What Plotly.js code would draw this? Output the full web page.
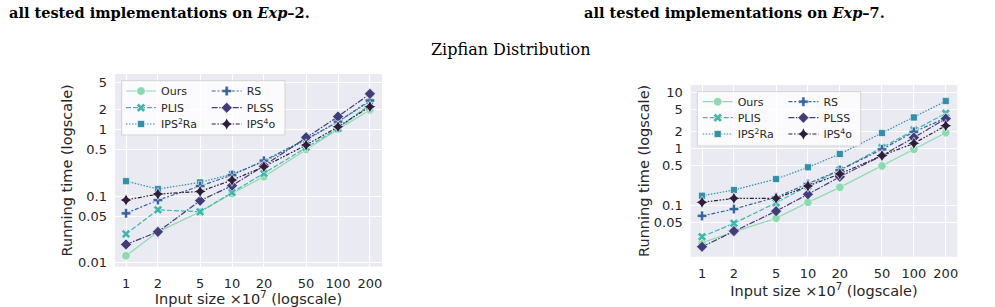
<!DOCTYPE html>
<html>
<head>
<meta charset="utf-8">
<script src="https://cdn.plot.ly/plotly-3.0.1.min.js"></script>
<style>
html,body{margin:0;padding:0;background:#fff;}
#chart{width:995px;height:307px;}
</style>
</head>
<body>
<div id="chart"></div>
<script>
// ---- data ----
const sizes = [1, 2, 5, 10, 20, 50, 100, 200];
const xTickText = ["1", "2", "5", "10", "20", "50", "100", "200"];
const seriesNames = ["Ours", "PLIS", "IPS<sup>2</sup>Ra", "RS", "PLSS", "IPS<sup>4</sup>o"];

// Exp-2 (left panel), running time in seconds
const ours2   = [0.0127, 0.029, 0.058, 0.109, 0.195, 0.50, 1.00, 1.95];
const plis2   = [0.027, 0.062, 0.058, 0.113, 0.218, 0.54, 1.03, 2.35];
const ips2ra2 = [0.167, 0.127, 0.160, 0.213, 0.327, 0.69, 1.30, 2.60];
const rs2     = [0.055, 0.087, 0.141, 0.206, 0.338, 0.71, 1.30, 2.70];
const plss2   = [0.0188, 0.029, 0.085, 0.143, 0.284, 0.757, 1.55, 3.40];
const ips4o2  = [0.087, 0.107, 0.117, 0.173, 0.275, 0.58, 1.09, 2.18];

// Exp-7 (right panel)
const ours7   = [0.0218, 0.034, 0.059, 0.113, 0.208, 0.497, 0.98, 1.93];
const plis7   = [0.0279, 0.048, 0.111, 0.220, 0.420, 1.06, 2.15, 4.25];
const ips2ra7 = [0.148, 0.187, 0.292, 0.471, 0.81, 1.90, 3.60, 7.00];
const rs7     = [0.065, 0.086, 0.139, 0.239, 0.420, 0.98, 2.00, 3.50];
const plss7   = [0.0185, 0.035, 0.079, 0.157, 0.320, 0.76, 1.58, 3.42];
const ips4o7  = [0.113, 0.133, 0.133, 0.220, 0.360, 0.76, 1.25, 2.57];

const yTicksLeft = [0.01, 0.05, 0.1, 0.5, 1, 2, 5];
const yTicksRight = [0.05, 0.1, 0.5, 1, 2, 5, 10];

// ---- styles ----
const W = 995, H = 307;
const colors = ["#8bdab2", "#40b7ad", "#348fa7", "#37659e", "#413d7b", "#2e1e3c"];
const symbols = ["circle", "x", "square", "cross", "diamond", "star-diamond"];
const msizes = [8.5, 8, 7, 8, 8.5, 9];
const dashes = ["solid", "5px,2px", "1.5px,1.5px", "4px,1.8px,2px,1.8px", "6px,1.5px,1.5px,1.5px", "4px,1.6px,1.6px,1.6px,1.6px,1.6px"];
const textCol = "#262626";
const tickFont = {family: "DejaVu Sans", size: 13, color: textCol};
const titleFont = {family: "DejaVu Sans", size: 14.5, color: textCol};

function px(x) { return x / W; }
function py(y) { return 1 - y / H; }

const leftData = [ours2, plis2, ips2ra2, rs2, plss2, ips4o2];
const rightData = [ours7, plis7, ips2ra7, rs7, plss7, ips4o7];
// legend rows: (Ours, RS), (PLIS, PLSS), (IPS2Ra, IPS4o)
const rowOf = [0, 1, 2, 0, 1, 2];

const traces = [];
function addPanel(data, xa, ya, legends) {
  data.forEach((vals, i) => {
    traces.push({
      type: "scatter", mode: "lines+markers",
      x: sizes, y: vals, xaxis: xa, yaxis: ya,
      name: seriesNames[i],
      legend: legends[rowOf[i]],
      line: {color: colors[i], width: 1.2, dash: dashes[i]},
      marker: {symbol: symbols[i], size: msizes[i], color: colors[i],
               line: {color: "#ffffff", width: 0.6}},
      hoverinfo: "x+y+name"
    });
  });
}
addPanel(leftData, "x", "y", ["legend", "legend2", "legend3"]);
addPanel(rightData, "x2", "y2", ["legend4", "legend5", "legend6"]);

function xAxis(domain, range, anchor, standoff) {
  return {
    type: "log", domain: domain, range: range, anchor: anchor,
    tickvals: sizes, ticktext: xTickText, tickfont: tickFont,
    ticks: "", ticklabelstandoff: 7,
    showgrid: true, gridcolor: "#ffffff", gridwidth: 1,
    zeroline: false, showline: false,
    title: {text: "Input size ×10<sup>7</sup> (logscale)", font: titleFont, standoff: standoff}
  };
}
function yAxis(domain, range, anchor, ticks, standoff) {
  return {
    type: "log", domain: domain, range: range, anchor: anchor,
    tickvals: ticks, ticktext: ticks.map(String), tickfont: tickFont,
    ticks: "", ticklabelstandoff: 7,
    showgrid: true, gridcolor: "#ffffff", gridwidth: 1,
    zeroline: false, showline: false,
    title: {text: "Running time (logscale)", font: titleFont, standoff: standoff}
  };
}

// one horizontal legend per row (two columns each)
function legendRow(xpx, rowCenterPx) {
  return {
    x: px(xpx), y: py(rowCenterPx - 14.5), xanchor: "left", yanchor: "top",
    orientation: "h", bgcolor: "rgba(0,0,0,0)", borderwidth: 0,
    entrywidth: 40.7, entrywidthmode: "pixels",
    itemwidth: 30, font: {family: "DejaVu Sans", size: 11, color: textCol},
    tracegroupgap: 0
  };
}

const layout = {
  width: W, height: H,
  margin: {l: 0, r: 0, t: 0, b: 0},
  paper_bgcolor: "#ffffff", plot_bgcolor: "#eaeaf2",
  showlegend: true,
  xaxis: xAxis([px(115), px(382)], [-0.104, 2.415], "y", 9),
  yaxis: yAxis([py(266.7), py(74)], [-2.06, 0.829], "x", yTicksLeft, 1),
  xaxis2: xAxis([px(690.7), px(957.3)], [-0.107, 2.41], "y2", 3),
  yaxis2: yAxis([py(256.7), py(85)], [-1.909, 1.13], "x2", yTicksRight, 0),
  legend: legendRow(121, 91),
  legend2: legendRow(121, 107.7),
  legend3: legendRow(121, 124),
  legend4: legendRow(697.7, 101.7),
  legend5: legendRow(697.7, 117.7),
  legend6: legendRow(697.7, 134),
  shapes: [
    {type: "rect", xref: "paper", yref: "paper", layer: "above",
     x0: px(121.7), x1: px(285), y0: py(135), y1: py(80.7),
     fillcolor: "rgba(255,255,255,0.8)", line: {color: "rgba(204,204,204,0.8)", width: 1}},
    {type: "rect", xref: "paper", yref: "paper", layer: "above",
     x0: px(697.3), x1: px(860.7), y0: py(146), y1: py(91.7),
     fillcolor: "rgba(255,255,255,0.8)", line: {color: "rgba(204,204,204,0.8)", width: 1}}
  ],
  annotations: [
    {text: "<b>all tested implementations on <i>Exp</i>–2.</b>", xref: "paper", yref: "paper",
     x: px(7), y: py(12), xanchor: "left", yanchor: "middle", showarrow: false,
     font: {family: "DejaVu Serif", size: 14.5, color: "#000000"}},
    {text: "<b>all tested implementations on <i>Exp</i>–7.</b>", xref: "paper", yref: "paper",
     x: px(582), y: py(12), xanchor: "left", yanchor: "middle", showarrow: false,
     font: {family: "DejaVu Serif", size: 14.5, color: "#000000"}},
    {text: "Zipfian Distribution", xref: "paper", yref: "paper",
     x: px(510), y: py(50), xanchor: "center", yanchor: "middle", showarrow: false,
     font: {family: "DejaVu Serif", size: 16, color: "#000000"}}
  ]
};

Plotly.newPlot("chart", traces, layout, {displayModeBar: false, staticPlot: true});
</script>
</body>
</html>
